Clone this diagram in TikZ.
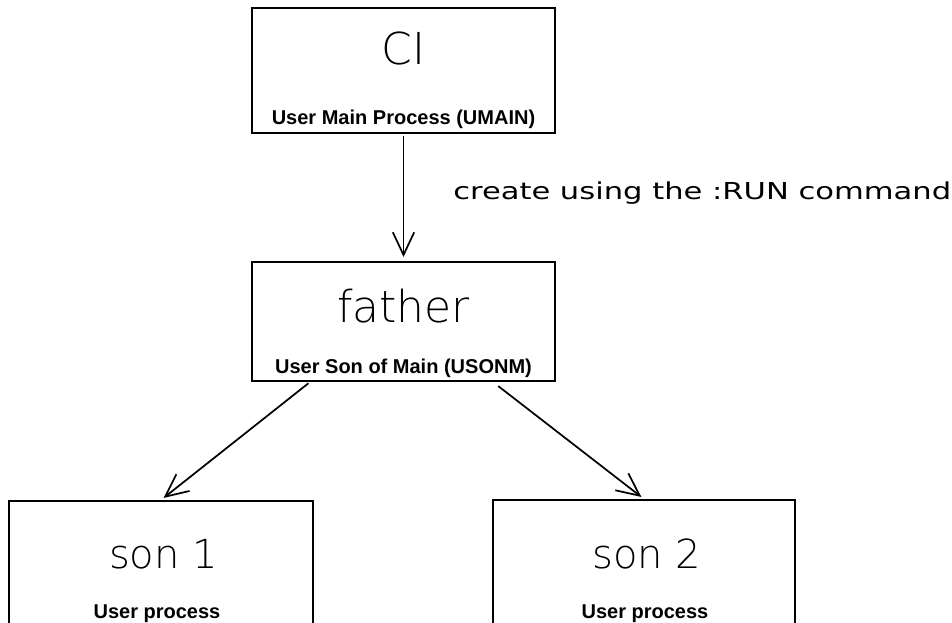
\documentclass[tikz,border=0pt]{standalone}
\usepackage{fontspec}
\setmainfont{Liberation Sans}
\newfontfamily\thinfont{DejaVu Sans ExtraLight}
\newfontfamily\capfont{DejaVu Sans}[FakeStretch=1.31]
\usetikzlibrary{arrows.meta}
\begin{document}
\begin{tikzpicture}[x=0.75pt,y=-0.75pt,
  box/.style={draw, line width=1.5pt, inner sep=0pt},
  bigtext/.style={font=\thinfont\fontsize{33}{38}\selectfont, anchor=base, inner sep=0pt},
  sontext/.style={font=\thinfont\fontsize{30}{35}\selectfont, anchor=base, inner sep=0pt},
  subtext/.style={font=\bfseries\fontsize{15}{18}\selectfont, anchor=base, inner sep=0pt},
  captext/.style={font=\capfont\fontsize{17.5}{20}\selectfont, anchor=base west, inner sep=0pt},
  arr/.style={line width=1.3pt, -{Straight Barb[length=17pt,width=16pt]}}]
\useasboundingbox (0,0) rectangle (952,623);
\clip (0,0) rectangle (952,623);
% boxes
\node[box, minimum width=227.25pt, minimum height=93.75pt] (ci) at (403.5,70.5) {};
\node[box, minimum width=227.25pt, minimum height=89.25pt] (father) at (403.5,321.5) {};
\node[box, minimum width=228pt, minimum height=150pt] (son1) at (161,601) {};
\node[box, minimum width=226.5pt, minimum height=150pt] (son2) at (644,600) {};
% texts
\node[bigtext] (citxt) at (403.5,65) {CI};
\node[subtext] (cisub) at (403.5,125) {User Main Process (UMAIN)};
\node[bigtext] (fathertxt) at (403.5,322) {father};
\node[subtext] (fathersub) at (403.5,373) {User Son of Main (USONM)};
\node[sontext] (son1txt) at (163.5,568) {son 1};
\node[subtext] (son1sub) at (157,618) {User process};
\node[sontext] (son2txt) at (647,568) {son 2};
\node[subtext] (son2sub) at (645,618) {User process};
\node[captext] (cap) at (453,200) {create using the :RUN command};
% connectors
\draw[arr, shorten <=1.5pt, shorten >=3pt] (ci.south) -- (father.north);
\draw[arr, shorten <=1.5pt, shorten >=2.5pt] ([xshift=-70.1pt]father.south) -- (son1.north);
\draw[arr, shorten <=5pt, shorten >=2.5pt] ([xshift=67.1pt]father.south) -- (son2.north);
\end{tikzpicture}
\end{document}
